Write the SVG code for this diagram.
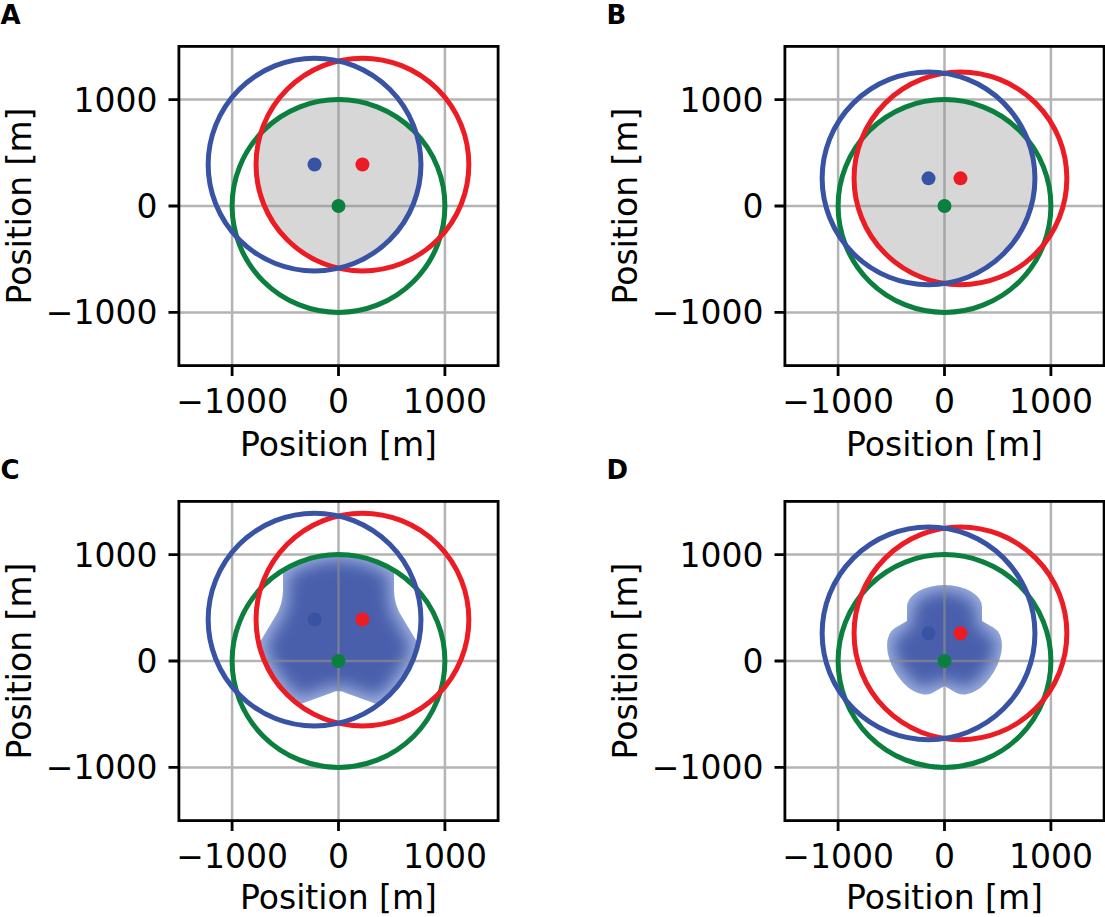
<svg xmlns="http://www.w3.org/2000/svg" width="1105" height="917" viewBox="0 0 1105 917">
<style>
.grid{stroke:#8c8c8c;stroke-opacity:0.65;stroke-width:2.5;fill:none}
.frame{fill:none;stroke:#000;stroke-width:2.8}
.tick{stroke:#000;stroke-width:2.8}
.tl{font-family:"DejaVu Sans",sans-serif;font-size:33px;fill:#000}
.tlx{text-anchor:middle}
.tly{text-anchor:end}
.lab{font-family:"DejaVu Sans",sans-serif;font-size:33px;fill:#000;text-anchor:middle}
.pl{font-family:"DejaVu Sans",sans-serif;font-size:26px;font-weight:bold;fill:#000}
.cr{fill:none;stroke:#ec1c24;stroke-width:5}
.cb{fill:none;stroke:#3953a4;stroke-width:5}
.cg{fill:none;stroke:#0b7f3e;stroke-width:5}
.dr{fill:#ec1c24}.db{fill:#3953a4}.dg{fill:#0b7f3e}
.gray{fill:#d7d7d7}
.light{fill:#9fb2e0}
.dark{fill:#4a5fac}
</style>
<defs>
<clipPath id="clipInterA"><path d="M -77.81 -72.58 A 106.4 106.4 0 0 1 77.81 -72.58 A 106.4 106.4 0 0 1 0 62.2 A 106.4 106.4 0 0 1 -77.81 -72.58 Z"/></clipPath>
<clipPath id="clipSupC"><path d="M -55.5 -161 L 55.5 -161 L 55.5 -71 Q 55.5 -56 63.5 -44 L 101.5 19 L 101.5 66 L 7.5 32 Q 0 28 -7.5 32 L -101.5 66 L -101.5 19 L -63.5 -44 Q -55.5 -56 -55.5 -71 Z"/></clipPath>
<clipPath id="clipSupD"><path d="M -37.5 -40.05 L -37.5 -54 A 37.5 22 0 0 1 37.5 -54 L 37.5 -40.05 L 49.58 -33.07 A 37.5 22 120 0 1 12.08 31.88 L 0 24.9 L -12.08 31.88 A 37.5 22 -120 0 1 -49.58 -33.07 Z"/></clipPath>
<filter id="soft" x="-40%" y="-40%" width="180%" height="180%"><feMorphology operator="erode" radius="5"/><feGaussianBlur stdDeviation="8"/></filter>
</defs>

<g id="panelA" transform="translate(338.5,206)">
<path class="gray" d="M -77.81 -72.58 A 106.4 106.4 0 0 1 77.81 -72.58 A 106.4 106.4 0 0 1 0 62.2 A 106.4 106.4 0 0 1 -77.81 -72.58 Z"/>
<path class="grid" d="M -106.4 -159.6 V 159.6 M 0 -159.6 V 159.6 M 106.4 -159.6 V 159.6 M -159.6 -106.4 H 159.6 M -159.6 0 H 159.6 M -159.6 106.4 H 159.6"/>
<circle class="cg" cx="0" cy="0" r="106.4"/>
<circle class="cr" cx="23.94" cy="-41.46" r="106.4"/>
<circle class="cb" cx="-23.94" cy="-41.46" r="106.4"/>
<circle class="db" cx="-23.94" cy="-41.46" r="7"/>
<circle class="dr" cx="23.94" cy="-41.46" r="7"/>
<circle class="dg" cx="0" cy="0" r="7"/>
<rect class="frame" x="-159.6" y="-159.6" width="319.2" height="319.2"/>
<path class="tick" d="M -106.4 159.6 V 170 M 0 159.6 V 170 M 106.4 159.6 V 170 M -159.6 -106.4 H -170 M -159.6 0 H -170 M -159.6 106.4 H -170"/>
<text class="tl tlx" x="-106.4" y="207">−1000</text>
<text class="tl tlx" x="0" y="207">0</text>
<text class="tl tlx" x="106.4" y="207">1000</text>
<text class="tl tly" x="-181" y="-94.4">1000</text>
<text class="tl tly" x="-181" y="12">0</text>
<text class="tl tly" x="-181" y="118.4">−1000</text>
<text class="lab" x="0" y="249.5">Position [m]</text>
<text class="lab" transform="translate(-307.5,0) rotate(-90)">Position [m]</text>
<text class="pl" x="-338" y="-182">A</text>
</g>

<g id="panelB" transform="translate(944.5,206)">
<path class="gray" d="M -83.12 -66.42 A 106.4 106.4 0 0 1 83.12 -66.42 A 106.4 106.4 0 0 1 0 77.55 A 106.4 106.4 0 0 1 -83.12 -66.42 Z"/>
<path class="grid" d="M -106.4 -159.6 V 159.6 M 0 -159.6 V 159.6 M 106.4 -159.6 V 159.6 M -159.6 -106.4 H 159.6 M -159.6 0 H 159.6 M -159.6 106.4 H 159.6"/>
<circle class="cg" cx="0" cy="0" r="106.4"/>
<circle class="cr" cx="15.96" cy="-27.64" r="106.4"/>
<circle class="cb" cx="-15.96" cy="-27.64" r="106.4"/>
<circle class="db" cx="-15.96" cy="-27.64" r="7"/>
<circle class="dr" cx="15.96" cy="-27.64" r="7"/>
<circle class="dg" cx="0" cy="0" r="7"/>
<rect class="frame" x="-159.6" y="-159.6" width="319.2" height="319.2"/>
<path class="tick" d="M -106.4 159.6 V 170 M 0 159.6 V 170 M 106.4 159.6 V 170 M -159.6 -106.4 H -170 M -159.6 0 H -170 M -159.6 106.4 H -170"/>
<text class="tl tlx" x="-106.4" y="207">−1000</text>
<text class="tl tlx" x="0" y="207">0</text>
<text class="tl tlx" x="106.4" y="207">1000</text>
<text class="tl tly" x="-181" y="-94.4">1000</text>
<text class="tl tly" x="-181" y="12">0</text>
<text class="tl tly" x="-181" y="118.4">−1000</text>
<text class="lab" x="0" y="249.5">Position [m]</text>
<text class="lab" transform="translate(-307.5,0) rotate(-90)">Position [m]</text>
<text class="pl" x="-338" y="-182">B</text>
</g>

<g id="panelC" transform="translate(338.5,661)">
<g clip-path="url(#clipInterA)">
<g clip-path="url(#clipSupC)">
<path class="light" d="M -160 -160 H 160 V 160 H -160 Z"/>
<g filter="url(#soft)"><g clip-path="url(#clipInterA)"><path class="dark" d="M -55.5 -161 L 55.5 -161 L 55.5 -71 Q 55.5 -56 63.5 -44 L 101.5 19 L 101.5 66 L 7.5 32 Q 0 28 -7.5 32 L -101.5 66 L -101.5 19 L -63.5 -44 Q -55.5 -56 -55.5 -71 Z"/></g></g>
</g>
</g>
<path class="grid" d="M -106.4 -159.6 V 159.6 M 0 -159.6 V 159.6 M 106.4 -159.6 V 159.6 M -159.6 -106.4 H 159.6 M -159.6 0 H 159.6 M -159.6 106.4 H 159.6"/>
<circle class="cg" cx="0" cy="0" r="106.4"/>
<circle class="cr" cx="23.94" cy="-41.46" r="106.4"/>
<circle class="cb" cx="-23.94" cy="-41.46" r="106.4"/>
<circle class="db" cx="-23.94" cy="-41.46" r="7"/>
<circle class="dr" cx="23.94" cy="-41.46" r="7"/>
<circle class="dg" cx="0" cy="0" r="7"/>
<rect class="frame" x="-159.6" y="-159.6" width="319.2" height="319.2"/>
<path class="tick" d="M -106.4 159.6 V 170 M 0 159.6 V 170 M 106.4 159.6 V 170 M -159.6 -106.4 H -170 M -159.6 0 H -170 M -159.6 106.4 H -170"/>
<text class="tl tlx" x="-106.4" y="207">−1000</text>
<text class="tl tlx" x="0" y="207">0</text>
<text class="tl tlx" x="106.4" y="207">1000</text>
<text class="tl tly" x="-181" y="-94.4">1000</text>
<text class="tl tly" x="-181" y="12">0</text>
<text class="tl tly" x="-181" y="118.4">−1000</text>
<text class="lab" x="0" y="248">Position [m]</text>
<text class="lab" transform="translate(-307.5,0) rotate(-90)">Position [m]</text>
<text class="pl" x="-338" y="-182">C</text>
</g>

<g id="panelD" transform="translate(944.5,661)">
<g clip-path="url(#clipSupD)">
<path class="light" d="M -80 -80 H 80 V 80 H -80 Z"/>
<path class="dark" filter="url(#soft)" d="M -37.5 -40.05 L -37.5 -54 A 37.5 22 0 0 1 37.5 -54 L 37.5 -40.05 L 49.58 -33.07 A 37.5 22 120 0 1 12.08 31.88 L 0 24.9 L -12.08 31.88 A 37.5 22 -120 0 1 -49.58 -33.07 Z"/>
</g>
<path class="grid" d="M -106.4 -159.6 V 159.6 M 0 -159.6 V 159.6 M 106.4 -159.6 V 159.6 M -159.6 -106.4 H 159.6 M -159.6 0 H 159.6 M -159.6 106.4 H 159.6"/>
<circle class="cg" cx="0" cy="0" r="106.4"/>
<circle class="cr" cx="15.96" cy="-27.64" r="106.4"/>
<circle class="cb" cx="-15.96" cy="-27.64" r="106.4"/>
<circle class="db" cx="-15.96" cy="-27.64" r="7"/>
<circle class="dr" cx="15.96" cy="-27.64" r="7"/>
<circle class="dg" cx="0" cy="0" r="7"/>
<rect class="frame" x="-159.6" y="-159.6" width="319.2" height="319.2"/>
<path class="tick" d="M -106.4 159.6 V 170 M 0 159.6 V 170 M 106.4 159.6 V 170 M -159.6 -106.4 H -170 M -159.6 0 H -170 M -159.6 106.4 H -170"/>
<text class="tl tlx" x="-106.4" y="207">−1000</text>
<text class="tl tlx" x="0" y="207">0</text>
<text class="tl tlx" x="106.4" y="207">1000</text>
<text class="tl tly" x="-181" y="-94.4">1000</text>
<text class="tl tly" x="-181" y="12">0</text>
<text class="tl tly" x="-181" y="118.4">−1000</text>
<text class="lab" x="0" y="248">Position [m]</text>
<text class="lab" transform="translate(-307.5,0) rotate(-90)">Position [m]</text>
<text class="pl" x="-338" y="-182">D</text>
</g>
<g id="connectors"/>
</svg>
